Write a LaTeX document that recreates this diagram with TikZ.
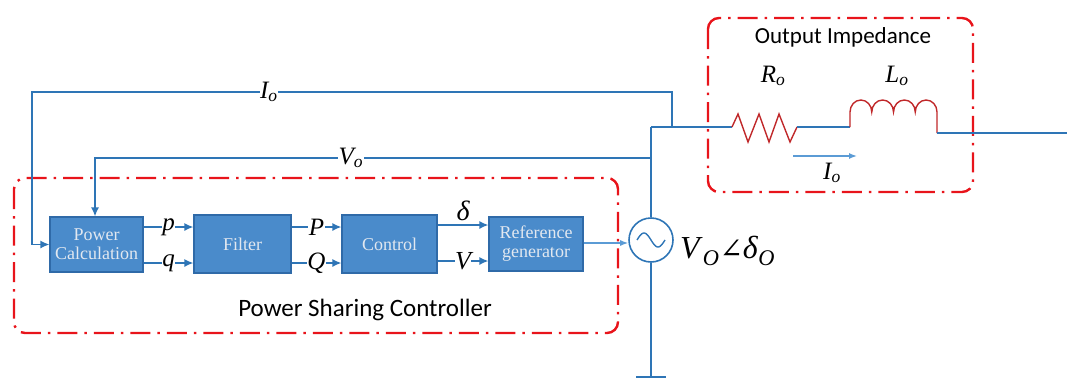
\documentclass[tikz,border=0pt]{standalone}
\usepackage{fontspec}
\setmainfont{Liberation Serif}
\newfontfamily\calib{Carlito}
\newfontfamily\djv{DejaVu Serif}
\usetikzlibrary{arrows.meta}
\definecolor{wire}{HTML}{2E75B6}
\definecolor{lwire}{HTML}{5B9BD5}
\definecolor{blk}{HTML}{4A8BCB}
\definecolor{blkedge}{HTML}{2F6AA8}
\definecolor{blktxt}{HTML}{E2E8F0}
\definecolor{redc}{HTML}{E8141B}
\definecolor{resc}{HTML}{C0282A}
\tikzset{
  wireline/.style={draw=wire, line width=1.4pt},
  sig/.style={wireline, -{Latex[length=9pt,width=8pt]}},
  blockbox/.style={draw=blkedge, line width=1.2pt, fill=blk, text=blktxt, align=center,
     font=\fontsize{18}{19}\selectfont, inner sep=1pt},
  groupbox/.style={draw=redc, line width=2.4pt, rounded corners=11pt,
     dash pattern=on 20pt off 7pt on 2.5pt off 7pt},
  lab/.style={font=\fontsize{25}{26}\selectfont\itshape, inner sep=0.5pt},
  onlab/.style={lab, fill=white},
}
\begin{document}
\begin{tikzpicture}[x=1pt,y=-1pt]
\useasboundingbox (0,0) rectangle (1067,383);
% group boxes
\draw[groupbox] (14,178) rectangle (618,333);
\draw[groupbox] (708,18) rectangle (973,192);
\node[font=\calib\fontsize{25}{26}\selectfont] (psc) at (365,310) {Power Sharing Controller};
\node[font=\calib\fontsize{23}{24}\selectfont] (oi) at (843,37) {Output Impedance};
% blocks
\node[blockbox, minimum width=93pt, minimum height=55pt] (pc) at (96.5,244.5) {Power\\Calculation};
\node[blockbox, minimum width=97pt, minimum height=58pt] (fl) at (242.5,244) {Filter};
\node[blockbox, minimum width=95pt, minimum height=58pt] (ct) at (389.5,244) {Control};
\node[blockbox, minimum width=94pt, minimum height=54pt] (rg) at (536,244) {Reference\\generator};
% coordinates
\coordinate (busL) at (651,127);
\coordinate (tapI) at (672,127);
\coordinate (tapV) at (651,158);
\coordinate (gnd) at (651,377);
\coordinate (rs) at (732,127);
% source
\node[draw=wire, line width=1.6pt, circle, minimum size=44pt, inner sep=0pt] (src) at (651,240) {};
\draw[wire, line width=1.4pt] plot[domain=-14:14, samples=40] ({651+\x},{240+7*sin(\x/14*180)});
\node[anchor=west, font=\fontsize{32}{33}\selectfont, inner sep=0pt] (vlab) at (680,251)
  {\textit{V}\textsubscript{\textit{O}}{\djv\fontsize{28}{29}\selectfont ∠}\textit{δ}\textsubscript{\textit{O}}};
\draw[wireline] (busL) -- (src.north);
\draw[wireline] (src.south) -- (gnd);
\draw[wireline] ([xshift=-15pt]gnd) -- ([xshift=15pt]gnd);
% bus and impedance
\draw[wireline] (busL) -- (rs);
\draw[draw=resc, line width=1.4pt] (rs) -- (738,114) -- (748,142) -- (759,114) -- (769,142) -- (779,114) -- (790,142) -- (797,127) coordinate (re);
\draw[wireline] (re) -- (850,127) coordinate (ls);
\draw[draw=resc, line width=1.4pt] (ls) -- (850,112)
  arc[start angle=180, end angle=0, x radius=10.875pt, y radius=12pt]
  arc[start angle=180, end angle=0, x radius=10.875pt, y radius=12pt]
  arc[start angle=180, end angle=0, x radius=10.875pt, y radius=12pt]
  arc[start angle=180, end angle=0, x radius=10.875pt, y radius=12pt]
  -- (937,133) coordinate (le);
\draw[wireline] (le) -- (1067,133) coordinate (out);
\node[lab] (rlab) at (773,76) {R\textsubscript{o}};
\node[lab] (llab) at (897,76) {L\textsubscript{o}};
\draw[draw=lwire, line width=1.4pt, -{Latex[length=8pt,width=6pt]}] (793,156) coordinate (ia) -- (857,156) coordinate (ib);
\node[lab] (ilab) at (832,173) {I\textsubscript{o}};
% feedback lines
\draw[sig] (tapI) -- (672,92) -- node[onlab, pos=0.63] {I\textsubscript{o}} (32,92) |- (pc.west);
\draw[sig] (tapV) -- node[onlab, pos=0.54] {V\textsubscript{o}} (95,158) -- (pc.north -| 95,0);
% signal arrows
\draw[sig] (pc.east |- 0,227) -- node[onlab] {p} (fl.west |- 0,227);
\draw[sig] (pc.east |- 0,263) -- node[onlab] {q} (fl.west |- 0,263);
\draw[sig] (fl.east |- 0,227) -- node[onlab] {P} (ct.west |- 0,227);
\draw[sig] (fl.east |- 0,263) -- node[onlab] {Q} (ct.west |- 0,263);
\draw[sig] (ct.east |- 0,225) -- node[lab, above=3pt, font=\fontsize{28}{29}\selectfont\itshape] {δ} (rg.west |- 0,225);
\draw[sig] (ct.east |- 0,261) -- node[onlab, font=\fontsize{26}{27}\selectfont\itshape] {V} (rg.west |- 0,261);
\draw[draw=lwire, line width=1.4pt, -{Latex[length=8pt,width=6pt]}] (rg.east |- 0,243) -- (src.west |- 0,243);
\end{tikzpicture}
\end{document}
